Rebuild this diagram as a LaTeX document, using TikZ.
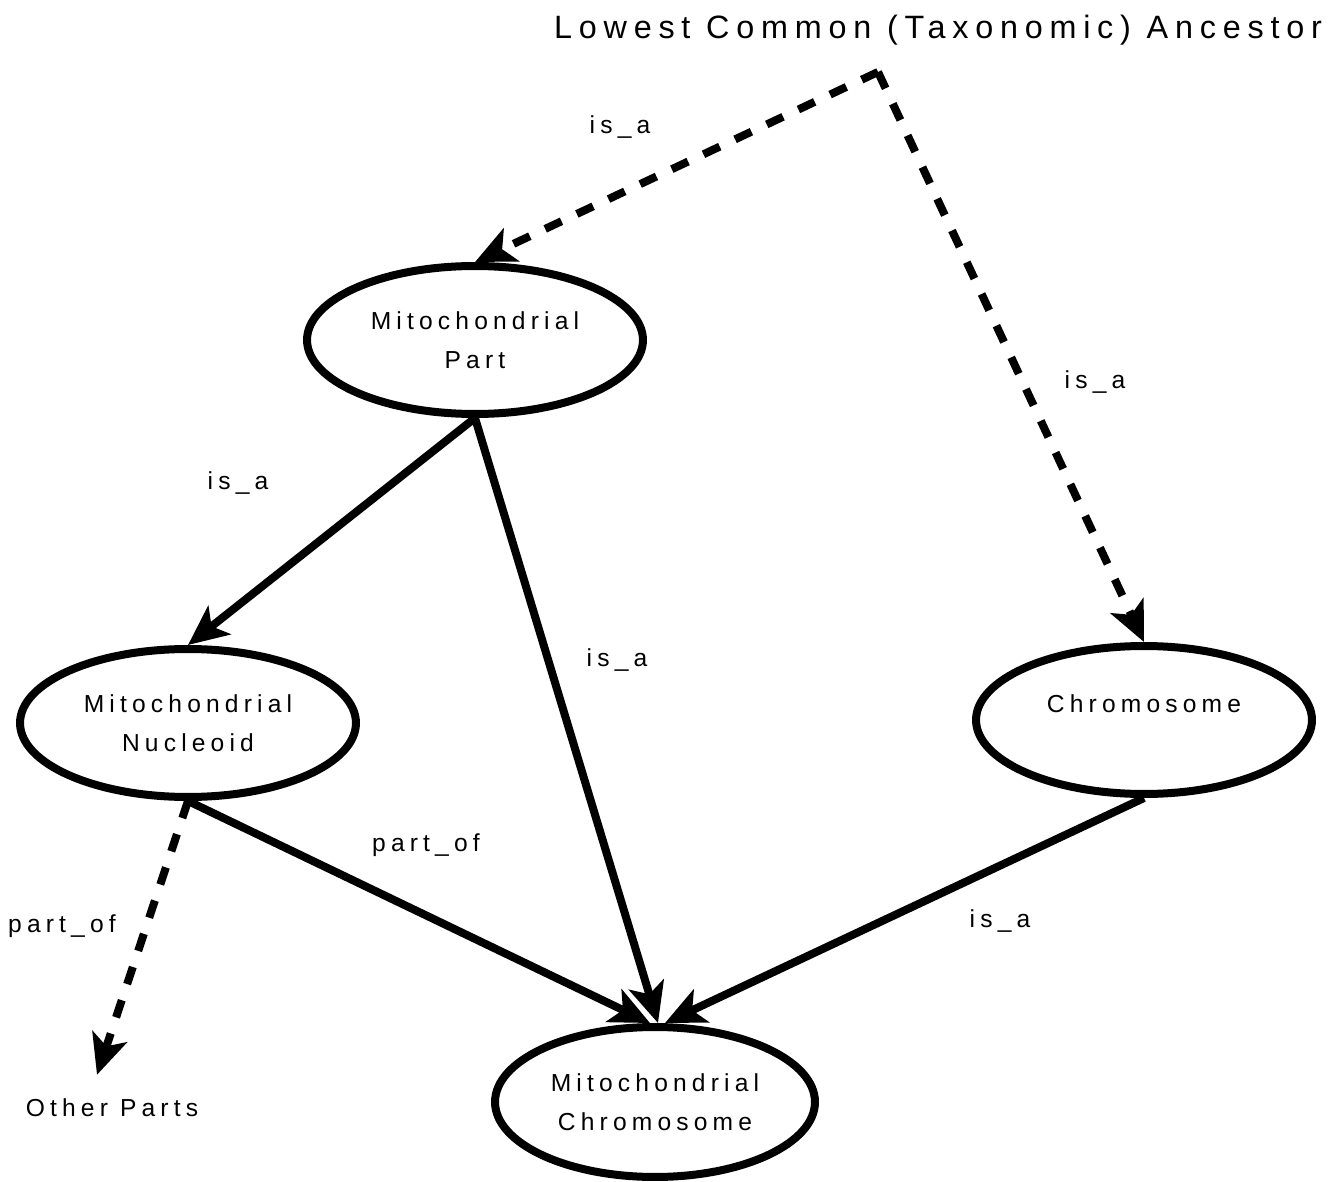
\documentclass[tikz,border=0pt]{standalone}
\usepackage{fontspec}
\setmainfont{Liberation Sans}
\newfontfamily\spacedfont[LetterSpace=21]{Liberation Sans}
\usetikzlibrary{arrows.meta,shapes.geometric}

\newcommand{\termfont}{\spacedfont\fontsize{14pt}{22pt}\selectfont}
\newcommand{\headfont}{\spacedfont\fontsize{18.4pt}{20pt}\selectfont}

\begin{document}
\begin{tikzpicture}[x=0.02cm, y=-0.02cm,
  >={Stealth[length=0.8cm, width=0.72cm, inset=0.2cm]},
  term/.style={ellipse, draw, line width=0.16cm, minimum width=6.72cm,
    minimum height=2.96cm, align=center, font=\termfont},
  rel/.style={->, line width=0.16cm},
  relguess/.style={rel, dash pattern=on 0.36cm off 0.34cm},
  lbl/.style={font=\termfont}]
  \useasboundingbox (0,0) rectangle (1333,1182);

  % Terms
  \node[term] (mp) at (475,340) {Mitochondrial\\Part};
  \node[term] (mn) at (188,723) {Mitochondrial\\Nucleoid};
  \node[term, text depth=0.66cm] (chrom) at (1144,720) {Chromosome};
  \node[term, minimum width=6.4cm, minimum height=3cm] (mc) at (655,1102) {Mitochondrial\\Chromosome};
  \node[lbl] (other) at (112,1108) {Other Parts};
  \node[font=\headfont] (lcatext) at (938,30) {Lowest Common (Taxonomic) Ancestor};
  \coordinate (lca) at (878,72);

  % Links to the common ancestor
  \draw[relguess] (lca) -- (mp.north);
  \draw[relguess] (lca) -- (chrom.north);

  % Known links
  \draw[rel] (mp.south) -- (mn.north);
  \draw[rel] (mp.south) -- ([xshift=0.06cm]mc.north);
  \draw[rel] (mn.south) -- ([xshift=-0.1cm]mc.north);
  \draw[rel] (chrom.south) -- ([xshift=0.2cm]mc.north);
  \draw[relguess] (mn.south) -- ([xshift=-0.3cm,yshift=0.36cm]other.north);

  % Relation labels
  \node[lbl] (l1) at (620,127) {is\_a};
  \node[lbl] (l2) at (1095,382) {is\_a};
  \node[lbl] (l3) at (238,483) {is\_a};
  \node[lbl] (l4) at (617,660) {is\_a};
  \node[lbl] (l5) at (426,845) {part\_of};
  \node[lbl] (l6) at (62,926) {part\_of};
  \node[lbl] (l7) at (1000,921) {is\_a};
\end{tikzpicture}
\end{document}
